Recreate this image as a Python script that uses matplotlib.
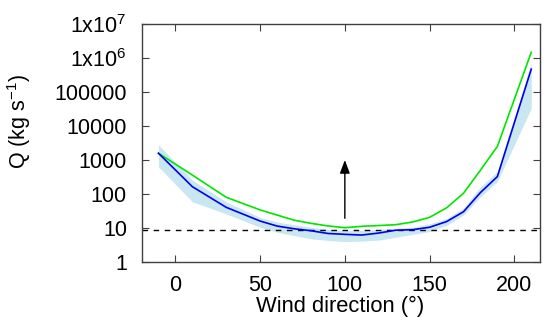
import matplotlib
matplotlib.use("Agg")
import matplotlib.pyplot as plt
import numpy as np
from matplotlib.ticker import LogLocator, FixedLocator, NullFormatter

plt.rcParams['font.family'] = ['Liberation Sans', 'DejaVu Sans']
plt.rcParams['mathtext.fontset'] = 'custom'
plt.rcParams['mathtext.rm'] = 'Liberation Sans'
plt.rcParams['mathtext.it'] = 'Liberation Sans'

# Data
wind_dir = [-10, 10, 30, 50, 60, 70, 80, 90, 100, 110, 120, 130, 140, 150, 160, 170, 180, 190, 210]
q_green = [1580, 360, 80, 34, 24, 17, 13.7, 11.5, 10.2, 11.2, 11.8, 12.5, 15, 20.6, 39, 105, 500, 2500, 1.47e6]
q_blue = [1580, 164, 40.5, 16, 11.4, 9.5, 8.3, 6.9, 6.5, 6.2, 7.1, 8.6, 8.9, 10.5, 15.4, 30, 110, 324, 4.7e5]
band_low = [630, 59, 26, 10.5, 7.5, 6, 4.8, 4.3, 4.0, 4.1, 4.4, 5.3, 6.5, 7.8, 12, 24, 83, 230, 33000]
band_high = [2800, 257, 59, 20.4, 15, 12.5, 10.5, 9.2, 8.3, 8.5, 9.1, 9.8, 10.5, 13.2, 19, 38, 162, 457, 7.0e5]
threshold = 8.5
arrow_x = 100
arrow_from = 19.3
arrow_to = 1000

xticks = [0, 50, 100, 150, 200]
yticks = [1, 10, 100, 1000, 10000, 100000, 1e6, 1e7]
ytick_labels = ["1", "10", "100", "1000", "10000", "100000",
                r"1x10$^{6}$", r"1x10$^{7}$"]

fig = plt.figure(figsize=(5.5, 3.23), dpi=100)
ax = fig.add_axes([0.2573, 0.1889, 0.7240, 0.7368])

ax.fill_between(wind_dir, band_low, band_high, color='#c9e7f1', linewidth=0, zorder=1)
ax.plot(wind_dir, q_green, color='#00e600', lw=1.2, zorder=3)
ax.plot(wind_dir, q_blue, color='#0000ee', lw=1.2, zorder=3)
ax.axhline(threshold, color='black', lw=1.0, dashes=(4, 4), zorder=2)
ax.annotate('', xy=(arrow_x, arrow_to), xytext=(arrow_x, arrow_from),
            arrowprops=dict(arrowstyle='-|>,head_length=0.8,head_width=0.3',
                            color='black', lw=1.0, shrinkA=0, shrinkB=0),
            zorder=4)

ax.set_yscale('log')
ax.set_xlim(-20, 215)
ax.set_ylim(1, 1e7)
ax.xaxis.set_major_locator(FixedLocator(xticks))
ax.yaxis.set_major_locator(FixedLocator(yticks))
ax.set_yticklabels(ytick_labels)
ax.yaxis.set_minor_locator(LogLocator(base=10, subs=np.arange(2, 10)))
ax.yaxis.set_minor_formatter(NullFormatter())

for s in ax.spines.values():
    s.set_color('#404040')
    s.set_linewidth(1.0)
ax.tick_params(which='both', direction='in', top=True, right=True,
               color='#404040', labelsize=15.5)
ax.tick_params(axis='y', which='major', pad=10.5)
ax.tick_params(axis='x', which='major', pad=9.2)
ax.tick_params(which='major', length=5)
ax.tick_params(which='minor', length=2.5)

ax.set_xlabel('Wind direction (°)', fontsize=15.8, labelpad=0)
ax.set_ylabel(r'Q (kg s$^{-1}$)', fontsize=15.5)
ax.yaxis.set_label_coords(-0.272, 0.592)

fig.savefig('out.png', dpi=100)
